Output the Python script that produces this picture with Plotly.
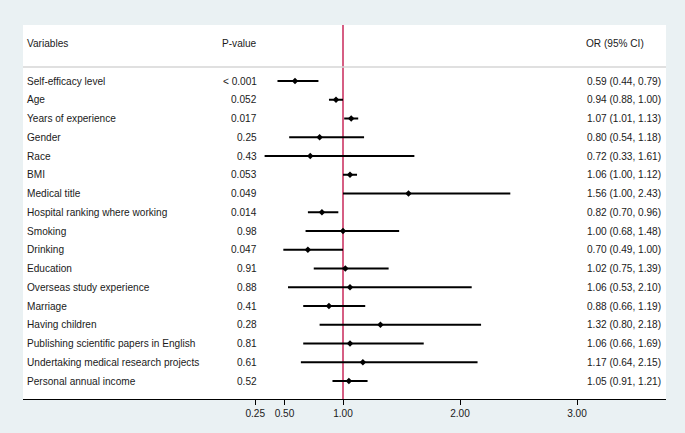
import plotly.graph_objects as go

variables = ["Self-efficacy level", "Age", "Years of experience", "Gender", "Race", "BMI",
             "Medical title", "Hospital ranking where working", "Smoking", "Drinking",
             "Education", "Overseas study experience", "Marriage", "Having children",
             "Publishing scientific papers in English", "Undertaking medical research projects",
             "Personal annual income"]
p_values = ["< 0.001", "0.052", "0.017", "0.25", "0.43", "0.053", "0.049", "0.014", "0.98",
            "0.047", "0.91", "0.88", "0.41", "0.28", "0.81", "0.61", "0.52"]
odds = [0.59, 0.94, 1.07, 0.80, 0.72, 1.06, 1.56, 0.82, 1.00, 0.70, 1.02, 1.06, 0.88, 1.32, 1.06, 1.17, 1.05]
lower = [0.44, 0.88, 1.01, 0.54, 0.33, 1.00, 1.00, 0.70, 0.68, 0.49, 0.75, 0.53, 0.66, 0.80, 0.66, 0.64, 0.91]
upper = [0.79, 1.00, 1.13, 1.18, 1.61, 1.12, 2.43, 0.96, 1.48, 1.00, 1.39, 2.10, 1.19, 2.18, 1.69, 2.15, 1.21]
tick_vals = [0.25, 0.50, 1.00, 2.00, 3.00]
tick_text = ["0.25", "0.50", "1.00", "2.00", "3.00"]
headers = ["Variables", "P-value", "OR (95% CI)"]

W, H = 685, 433
L, R, T, B = 23, 19, 25, 34
# x scale: 0 at pixel 226, 1 unit = 117 px
x_range = [(L - 226) / 117, (W - R - 226) / 117]
# y scale: row i at pixel 81 + 18.75*i
y_range = [(H - B - 81) / 18.75, (T - 81) / 18.75]

rows = list(range(len(variables)))
font = dict(family="Liberation Sans, Arial, sans-serif", size=10.1, color="#1a1a1a")

fig = go.Figure()
fig.add_trace(go.Scatter(
    x=odds, y=rows, mode="markers",
    marker=dict(symbol="diamond", size=5, color="black"),
    error_x=dict(type="data", symmetric=False,
                 array=[u - o for u, o in zip(upper, odds)],
                 arrayminus=[o - l for o, l in zip(odds, lower)],
                 width=0, thickness=2, color="black"),
    hoverinfo="skip", showlegend=False,
))

def px_x(p):
    return (p - L) / (W - L - R)

ann = []
header_y = -2
ann.append(dict(x=px_x(25), y=header_y, text=headers[0], xanchor="left"))
ann.append(dict(x=px_x(259), y=header_y, text=headers[1], xanchor="right"))
ann.append(dict(x=px_x(584), y=header_y, text=headers[2], xanchor="left"))
for i in rows:
    ann.append(dict(x=px_x(25), y=i, text=variables[i], xanchor="left"))
    ann.append(dict(x=px_x(259), y=i, text=p_values[i], xanchor="right"))
    ann.append(dict(x=px_x(585), y=i,
                    text=f"{odds[i]:.2f} ({lower[i]:.2f}, {upper[i]:.2f})", xanchor="left"))
for a in ann:
    a.update(xref="paper", yref="y", showarrow=False, yanchor="middle", font=font)

fig.update_layout(
    width=W, height=H,
    margin=dict(l=L, r=R, t=T, b=B),
    paper_bgcolor="#eaf1f3", plot_bgcolor="white",
    annotations=ann,
    shapes=[
        dict(type="line", xref="paper", yref="y", x0=0, x1=1, y0=-0.75, y1=-0.75,
             line=dict(color="#d6d6d6", width=1.5)),
        dict(type="line", xref="x", yref="paper", x0=1, x1=1, y0=0, y1=1,
             line=dict(color="#c8285a", width=1.5), layer="below"),
    ],
    xaxis=dict(range=x_range, tickvals=tick_vals, ticktext=tick_text,
               showgrid=False, zeroline=False, showline=True, linecolor="black", linewidth=1,
               ticks="outside", ticklen=5, tickcolor="black", tickfont=font, fixedrange=True),
    yaxis=dict(range=y_range, visible=False, showgrid=False, zeroline=False, fixedrange=True),
)

fig.write_html("out.html", config={"displayModeBar": False},
               post_script="document.body.style.margin='0';document.body.style.overflow='hidden';")
